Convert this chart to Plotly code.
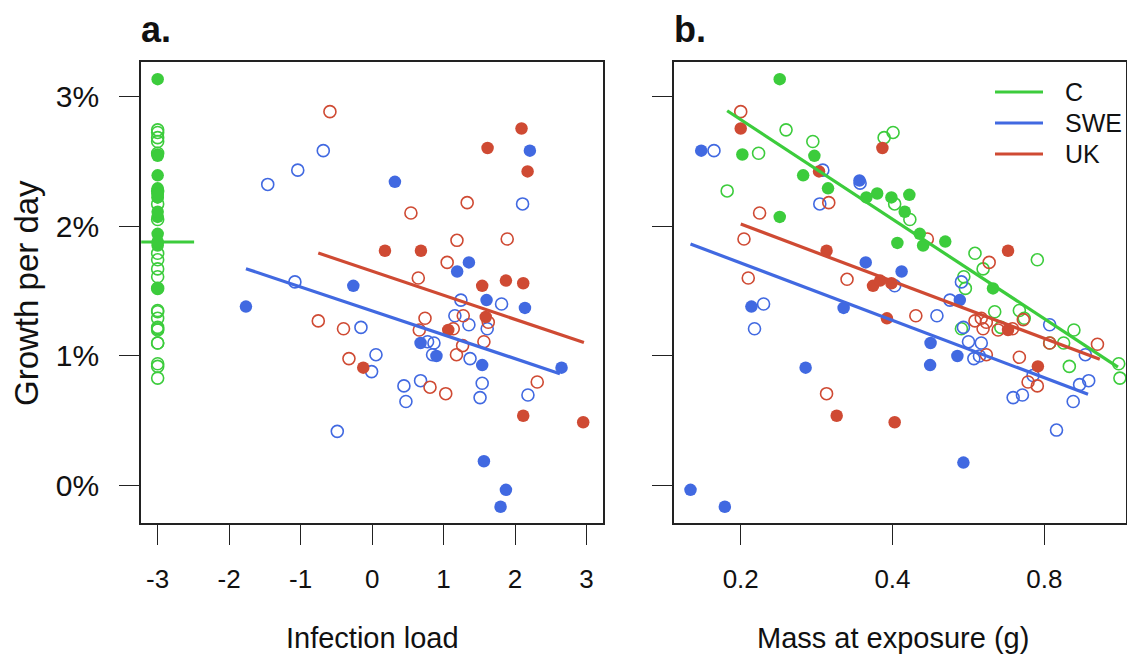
import plotly.graph_objects as go

W, H = 1127, 659
GREEN = "#3ccc3c"
BLUE = "#4169e1"
RED = "#cf4a33"
FONT = "Liberation Sans, Arial, sans-serif"

# ---------------- Panel b: mass at exposure (g) vs growth (%/day) ----------------
c_fill_mass = [0.239, 0.2015, 0.280, 0.266, 0.298, 0.239, 0.355, 0.373, 0.398, 0.432, 0.423, 0.453, 0.460, 0.409, 0.509, 0.633]
c_fill_growth = [3.13, 2.55, 2.54, 2.39, 2.29, 2.07, 2.22, 2.25, 2.22, 2.24, 2.11, 1.94, 1.85, 1.87, 1.88, 1.52]
c_open_mass = [0.217, 0.246, 0.188, 0.278, 0.385, 0.401, 0.404, 0.433, 0.583, 0.605, 0.554, 0.558, 0.775, 0.638,
               0.714, 0.730, 0.656, 0.548, 0.820, 0.874, 0.916, 0.897, 1.124, 1.130]
c_open_growth = [2.56, 2.74, 2.27, 2.65, 2.68, 2.72, 2.17, 2.05, 1.79, 1.67, 1.61, 1.52, 1.74, 1.34,
                 1.35, 1.29, 1.22, 1.21, 1.10, 1.10, 1.20, 0.92, 0.94, 0.83]

swe_fill_mass = [0.167, 0.344, 0.354, 0.417, 0.544, 0.210, 0.320, 0.476, 0.475, 0.538, 0.269, 0.553, 0.159, 0.186]
swe_fill_growth = [2.58, 2.35, 1.72, 1.65, 1.43, 1.38, 1.37, 1.10, 0.93, 1.00, 0.91, 0.18, -0.03, -0.16]
swe_open_mass = [0.177, 0.291, 0.345, 0.287, 0.404, 0.548, 0.520, 0.222, 0.213, 0.490, 0.553, 0.566, 0.600,
                 0.580, 0.595, 0.820, 0.965, 0.940, 0.980, 0.913, 0.694, 0.724, 0.846, 0.760]
swe_open_growth = [2.58, 2.43, 2.33, 2.17, 1.54, 1.57, 1.43, 1.40, 1.21, 1.31, 1.22, 1.11, 1.10,
                   0.98, 1.00, 1.24, 1.01, 0.78, 0.81, 0.65, 0.68, 0.70, 0.43, 0.85]

uk_fill_mass = [0.200, 0.382, 0.286, 0.296, 0.678, 0.366, 0.378, 0.398, 0.390, 0.678, 0.777, 0.310, 0.404]
uk_fill_growth = [2.75, 2.60, 2.42, 1.81, 1.81, 1.54, 1.58, 1.56, 1.29, 1.20, 0.92, 0.54, 0.49]
uk_open_mass = [0.200, 0.299, 0.218, 0.203, 0.207, 0.469, 0.622, 0.325, 0.445, 0.583, 0.600, 0.614, 0.605,
                0.648, 0.692, 0.727, 0.820, 1.020, 0.614, 0.714, 0.743, 0.775, 0.296]
uk_open_growth = [2.88, 2.18, 2.10, 1.90, 1.60, 1.90, 1.72, 1.59, 1.31, 1.27, 1.29, 1.26, 1.21,
                  1.20, 1.21, 1.28, 1.10, 1.09, 1.01, 0.99, 0.80, 0.77, 0.71]

# fitted lines, panel b (mass endpoints, growth endpoints)
c_fit_mass = [0.188, 1.12]
c_fit_growth = [2.887, 0.915]
swe_fit_mass = [0.159, 0.977]
swe_fit_growth = [1.862, 0.705]
uk_fit_mass = [0.200, 1.031]
uk_fit_growth = [2.015, 0.975]

# ---------------- Panel a: infection load vs growth ----------------
c_load = -3  # controls plotted at load = -3
swe_fill_load = [-1.765, 0.319, -0.263, 1.19, 1.354, 2.207, 1.601, 2.138, 0.678, 0.90, 1.54, 2.65, 1.564, 1.872, 1.797]
swe_fill_growth_a = [1.38, 2.34, 1.54, 1.65, 1.72, 2.58, 1.43, 1.37, 1.10, 1.00, 0.93, 0.91, 0.19, -0.03, -0.16]
swe_open_load = [-1.46, -1.04, -0.683, -1.08, -0.156, 0.054, -0.007, -0.487, 2.105, 1.811, 1.242, 1.158,
                 1.354, 1.61, 0.776, 0.865, 0.846, 1.37, 1.54, 1.51, 0.678, 0.445, 0.473, 2.18]
swe_open_growth_a = [2.32, 2.43, 2.58, 1.57, 1.22, 1.01, 0.88, 0.42, 2.17, 1.40, 1.43, 1.31,
                     1.24, 1.21, 1.11, 1.10, 1.01, 0.98, 0.79, 0.68, 0.81, 0.77, 0.65, 0.70]
uk_fill_load = [2.09, 1.615, 2.175, 0.18, 0.683, 1.54, 1.872, 2.114, 1.065, 1.59, -0.124, 2.114, 2.953]
uk_fill_growth_a = [2.75, 2.60, 2.42, 1.81, 1.81, 1.54, 1.58, 1.56, 1.20, 1.30, 0.91, 0.54, 0.49]
uk_open_load = [-0.59, 1.33, 0.543, 1.187, 1.89, 1.05, 0.646, -0.753, -0.40, 0.74, 0.66, 1.135, 1.275,
                1.625, 1.266, 1.564, 1.18, -0.324, 0.81, 1.03, 2.31]
uk_open_growth_a = [2.88, 2.18, 2.10, 1.89, 1.90, 1.72, 1.60, 1.27, 1.21, 1.29, 1.20, 1.21, 1.31,
                    1.26, 1.08, 1.11, 1.01, 0.98, 0.76, 0.71, 0.80]

c_fit_load = [-3.23, -2.49]
c_fit_growth_a = [1.877, 1.877]
swe_fit_load = [-1.765, 2.627]
swe_fit_growth_a = [1.672, 0.864]
uk_fit_load = [-0.753, 2.963]
uk_fit_growth_a = [1.792, 1.103]

legend_names = ["C", "SWE", "UK"]
legend_colors = [GREEN, BLUE, RED]
x_ticks_a = [-3, -2, -1, 0, 1, 2, 3]
x_ticktext_a = ["-3", "-2", "-1", "0", "1", "2", "3"]
x_ticks_b = [0.2, 0.4, 0.8]
x_ticktext_b = ["0.2", "0.4", "0.8"]
y_ticks = [0, 1, 2, 3]
y_ticktext = ["0%", "1%", "2%", "3%"]

fig = go.Figure()


def pts(x, y, color, filled, xa, ya):
    if filled:
        m = dict(symbol="circle", size=12.5, color=color, line=dict(width=0))
    else:
        m = dict(symbol="circle-open", size=12, color=color, line=dict(width=1.6, color=color))
    fig.add_trace(go.Scatter(x=x, y=y, mode="markers", marker=m, xaxis=xa, yaxis=ya,
                             showlegend=False, hoverinfo="skip"))


def fit(x, y, color, xa, ya):
    fig.add_trace(go.Scatter(x=x, y=y, mode="lines", line=dict(color=color, width=3.2),
                             xaxis=xa, yaxis=ya, showlegend=False, hoverinfo="skip"))


# panel a
pts([c_load] * len(c_open_growth), c_open_growth, GREEN, False, "x", "y")
pts([c_load] * len(c_fill_growth), c_fill_growth, GREEN, True, "x", "y")
pts(swe_open_load, swe_open_growth_a, BLUE, False, "x", "y")
pts(uk_open_load, uk_open_growth_a, RED, False, "x", "y")
pts(swe_fill_load, swe_fill_growth_a, BLUE, True, "x", "y")
pts(uk_fill_load, uk_fill_growth_a, RED, True, "x", "y")
fit(c_fit_load, c_fit_growth_a, GREEN, "x", "y")
fit(swe_fit_load, swe_fit_growth_a, BLUE, "x", "y")
fit(uk_fit_load, uk_fit_growth_a, RED, "x", "y")

# panel b
pts(c_open_mass, c_open_growth, GREEN, False, "x2", "y2")
pts(swe_open_mass, swe_open_growth, BLUE, False, "x2", "y2")
pts(uk_open_mass, uk_open_growth, RED, False, "x2", "y2")
pts(c_fill_mass, c_fill_growth, GREEN, True, "x2", "y2")
pts(swe_fill_mass, swe_fill_growth, BLUE, True, "x2", "y2")
pts(uk_fill_mass, uk_fill_growth, RED, True, "x2", "y2")
fit(c_fit_mass, c_fit_growth, GREEN, "x2", "y2")
fit(swe_fit_mass, swe_fit_growth, BLUE, "x2", "y2")
fit(uk_fit_mass, uk_fit_growth, RED, "x2", "y2")


def px(x):
    return x / W


def py(y):
    return 1 - y / H


ydom = [py(523), py(62)]
common = dict(showgrid=False, zeroline=False, showline=True, mirror=True, linecolor="#222",
              linewidth=1.6, ticks="outside", ticklen=20, tickwidth=1.4, tickcolor="#222")

fig.update_layout(
    width=W, height=H, margin=dict(l=0, r=0, t=0, b=0),
    paper_bgcolor="white", plot_bgcolor="white",
    font=dict(family=FONT, color="#111"),
    xaxis=dict(domain=[px(141), px(603)], range=[-3.233, 3.23], tickvals=x_ticks_a,
               ticktext=x_ticktext_a, tickfont=dict(size=26), ticklabelstandoff=12,
               anchor="y", **common),
    yaxis=dict(domain=ydom, range=[-0.285, 3.262], tickvals=y_ticks, ticktext=y_ticktext,
               tickfont=dict(size=30), ticklabelstandoff=14, anchor="x", **common),
    xaxis2=dict(domain=[px(674), px(1126)], type="log", range=[-0.8313, 0.0652],
                tickvals=x_ticks_b, ticktext=x_ticktext_b, tickfont=dict(size=26),
                ticklabelstandoff=12, anchor="y2", **common),
    yaxis2=dict(domain=ydom, range=[-0.285, 3.262], tickvals=y_ticks, showticklabels=False,
                anchor="x2", **common),
)

ann = []
ann.append(dict(text="<b>a.</b>", x=px(139), y=py(30), xanchor="left", yanchor="middle",
                font=dict(size=36)))
ann.append(dict(text="<b>b.</b>", x=px(672), y=py(30), xanchor="left", yanchor="middle",
                font=dict(size=36)))
ann.append(dict(text="Infection load", x=px(372), y=py(638), xanchor="center", yanchor="middle",
                font=dict(size=29)))
ann.append(dict(text="Mass at exposure (g)", x=px(893), y=py(638), xanchor="center", yanchor="middle",
                font=dict(size=29)))
ann.append(dict(text="Growth per day", x=px(27), y=py(293), xanchor="center", yanchor="middle",
                textangle=-90, font=dict(size=33)))

shapes = []
for i, (nm, col) in enumerate(zip(legend_names, legend_colors)):
    yy = 92 + 31 * i
    shapes.append(dict(type="line", xref="paper", yref="paper", x0=px(995), x1=px(1043),
                       y0=py(yy), y1=py(yy), line=dict(color=col, width=3.2)))
    ann.append(dict(text=nm, x=px(1063), y=py(yy), xanchor="left", yanchor="middle",
                    font=dict(size=25)))

for a in ann:
    a.update(xref="paper", yref="paper", showarrow=False)

fig.update_layout(annotations=ann, shapes=shapes)
fig.write_html("out.html", config={"displayModeBar": False},
               post_script="document.body.style.margin='0';document.body.style.padding='0';")
